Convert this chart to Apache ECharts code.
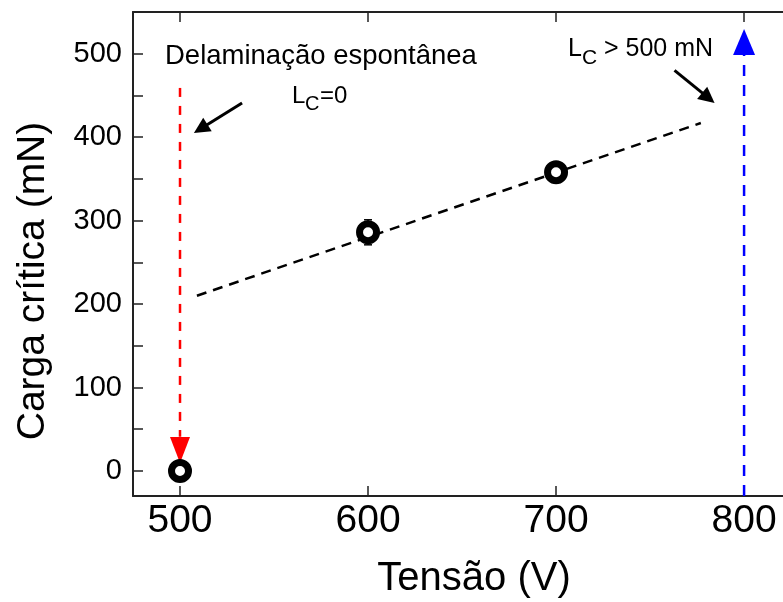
<!DOCTYPE html>
<html><head><meta charset="utf-8">
<script src="https://cdn.jsdelivr.net/npm/echarts@6/dist/echarts.min.js"></script>
<style>html,body{margin:0;padding:0;background:#fff}#c{width:783px;height:602px}</style>
</head><body><div id="c"></div>
<script>
// ---- data ----
const voltage = [500, 600, 700];
const criticalLoad = [0, 286, 358];
const loadError = [0, 15, 9];
const fitVoltage = [509, 777];
const fitLoad = [210, 417];
const xTickValues = [500, 600, 700, 800];
const yTickValues = [0, 100, 200, 300, 400, 500];
const yMinorTickValues = [0, 50, 100, 150, 200, 250, 300, 350, 400, 450, 500];
// delamination arrow (red, at 500 V) and >500 mN arrow (blue, at 800 V)
const redArrowX = 500, redArrowFrom = 459, redArrowTo = 41, redHeadCenter = 25;
const blueArrowX = 800, blueArrowFrom = -30, blueArrowTo = 499, blueHeadCenter = 514;
// black pointer arrows [x0, y0, x1, y1] in data units
const pointer1 = [533, 441, 511, 410];
const pointer2 = [763, 480, 781, 447];

const FONT = 'Liberation Sans, Arial, sans-serif';
const chart = echarts.init(document.getElementById('c'));
const axisLine = { onZero: false, lineStyle: { color: '#222', width: 2 } };

chart.setOption({
  animation: false,
  backgroundColor: '#fff',
  grid: { left: 133, top: 12, right: 0, bottom: 106 },
  xAxis: [{
    type: 'value', min: 475, max: 820.7,
    axisLine: axisLine,
    axisTick: { inside: true, length: 10, lineStyle: { color: '#222', width: 1.5 }, customValues: xTickValues },
    axisLabel: { customValues: xTickValues, fontSize: 39, color: '#000', fontFamily: FONT, margin: 6 },
    splitLine: { show: false }
  }, {
    type: 'value', position: 'top', min: 475, max: 820.7,
    axisLine: axisLine,
    axisTick: { inside: true, length: 10, lineStyle: { color: '#222', width: 1.5 }, customValues: xTickValues },
    axisLabel: { show: false },
    splitLine: { show: false }
  }],
  yAxis: [{
    type: 'value', min: -30, max: 550,
    axisLine: axisLine,
    axisTick: { inside: true, length: 10, lineStyle: { color: '#222', width: 1.5 }, customValues: yMinorTickValues },
    axisLabel: { customValues: yTickValues, fontSize: 29, color: '#000', fontFamily: FONT, margin: 11 },
    splitLine: { show: false }
  }],
  graphic: [
    { type: 'text', left: 165, top: 42, style: { text: 'Delaminação espontânea', fontSize: 27.5, fill: '#000', fontFamily: FONT } },
    { type: 'text', left: 292, top: 84, style: { text: 'L', fontSize: 24, fill: '#000', fontFamily: FONT } },
    { type: 'text', left: 305, top: 94, style: { text: 'C', fontSize: 20, fill: '#000', fontFamily: FONT } },
    { type: 'text', left: 320, top: 84, style: { text: '=0', fontSize: 24, fill: '#000', fontFamily: FONT } },
    { type: 'text', left: 568, top: 37, style: { text: 'L', fontSize: 25, fill: '#000', fontFamily: FONT } },
    { type: 'text', left: 582, top: 48, style: { text: 'C', fontSize: 21, fill: '#000', fontFamily: FONT } },
    { type: 'text', left: 604, top: 37, style: { text: '> 500 mN', fontSize: 25, fill: '#000', fontFamily: FONT } },
    { type: 'text', x: 474, y: 579, style: { text: 'Tensão (V)', fontSize: 40, fill: '#000', fontFamily: FONT, align: 'center', verticalAlign: 'middle' } },
    { type: 'text', x: 33, y: 281, rotation: Math.PI / 2, style: { text: 'Carga crítica (mN)', fontSize: 39, fill: '#000', fontFamily: FONT, align: 'center', verticalAlign: 'middle' } }
  ],
  series: [
    { type: 'line', data: fitVoltage.map((v, i) => [v, fitLoad[i]]), symbol: 'none', z: 2,
      lineStyle: { color: '#000', width: 2.5, type: [10, 7] } },
    { type: 'line', data: [[redArrowX, redArrowFrom], [redArrowX, redArrowTo]], symbol: 'none', z: 2,
      lineStyle: { color: '#ff0000', width: 2.5, type: [9, 9] } },
    { type: 'scatter', data: [[redArrowX, redHeadCenter]], symbol: 'triangle', symbolRotate: 180, symbolSize: [20, 26], z: 3,
      itemStyle: { color: '#ff0000', opacity: 1 } },
    { type: 'line', data: [[blueArrowX, blueArrowFrom], [blueArrowX, blueArrowTo]], symbol: 'none', z: 2,
      lineStyle: { color: '#0000ff', width: 2.5, type: [11, 9] } },
    { type: 'scatter', data: [[blueArrowX, blueHeadCenter]], symbol: 'triangle', symbolSize: [22, 26], z: 3,
      itemStyle: { color: '#0000ff', opacity: 1 } },
    { type: 'lines', coordinateSystem: 'cartesian2d', z: 4,
      symbol: ['none', 'triangle'], symbolSize: 16,
      lineStyle: { color: '#000', width: 3, opacity: 1, curveness: 0 },
      data: [pointer1, pointer2].map(p => ({ coords: [[p[0], p[1]], [p[2], p[3]]] })) },
    { type: 'custom', z: 5,
      data: voltage.map((v, i) => [v, criticalLoad[i], loadError[i]]),
      renderItem: function (params, api) {
        const x = api.value(0), y = api.value(1), e = api.value(2);
        if (!e) return null;
        const top = api.coord([x, y + e]), bot = api.coord([x, y - e]);
        const st = { stroke: '#000', lineWidth: 1.5 };
        return { type: 'group', children: [
          { type: 'line', shape: { x1: top[0], y1: top[1], x2: bot[0], y2: bot[1] }, style: st },
          { type: 'line', shape: { x1: top[0] - 4, y1: top[1], x2: top[0] + 4, y2: top[1] }, style: st },
          { type: 'line', shape: { x1: bot[0] - 4, y1: bot[1], x2: bot[0] + 4, y2: bot[1] }, style: st }
        ] };
      } },
    { type: 'scatter', z: 6, data: voltage.map((v, i) => [v, criticalLoad[i]]),
      symbol: 'circle', symbolSize: 17,
      itemStyle: { color: '#fff', borderColor: '#000', borderWidth: 7, opacity: 1 } }
  ]
});
</script></body></html>
